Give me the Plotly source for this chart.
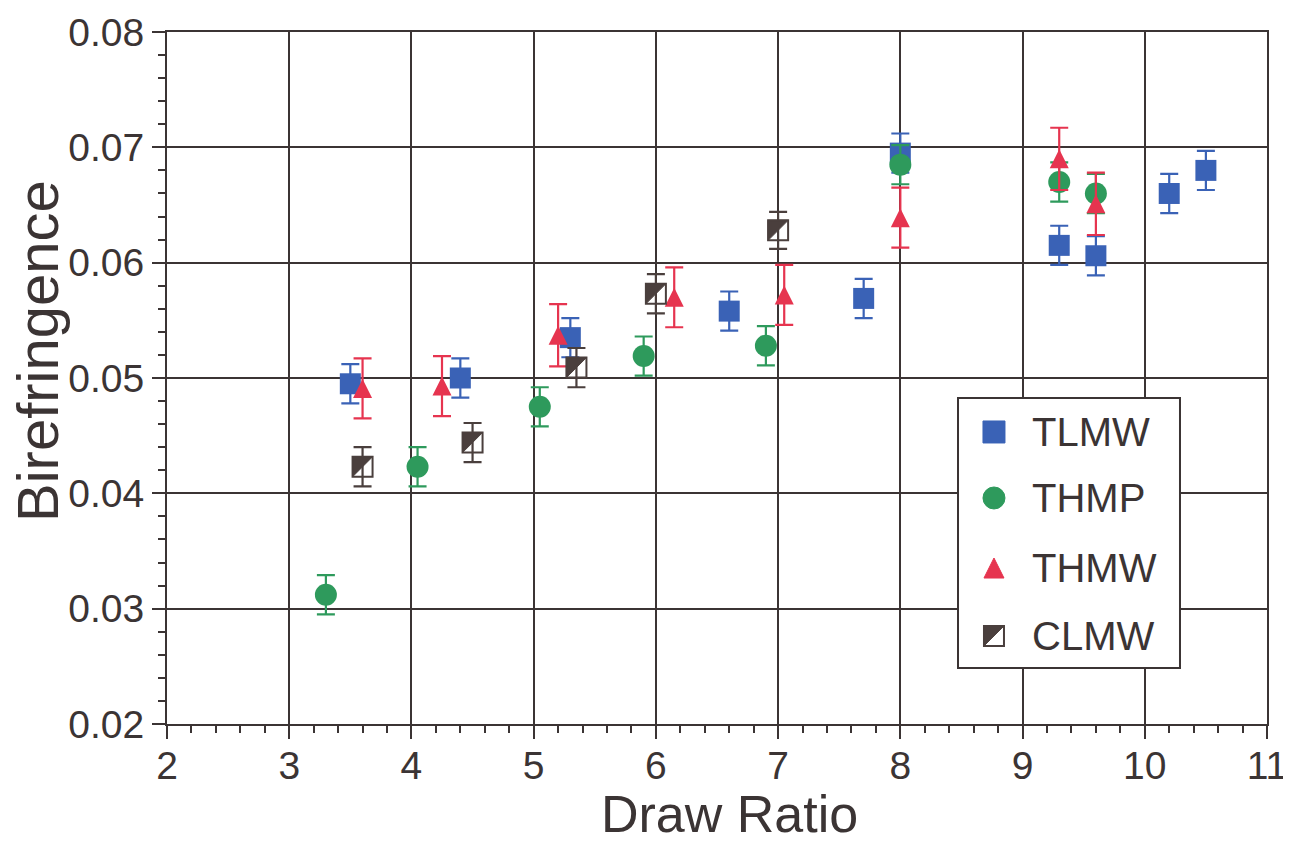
import plotly.graph_objects as go

# ---------------- data ----------------
tlmw_x = [3.5, 4.4, 5.3, 6.6, 7.7, 8.0, 9.3, 9.6, 10.2, 10.5]
tlmw_y = [0.0495, 0.0500, 0.0535, 0.0558, 0.0569, 0.0695, 0.0615, 0.0606, 0.0660, 0.0680]
tlmw_err = [0.0017] * 10

thmp_x = [3.3, 4.05, 5.05, 5.9, 6.9, 8.0, 9.3, 9.6]
thmp_y = [0.0312, 0.0423, 0.0475, 0.0519, 0.0528, 0.0685, 0.0670, 0.0660]
thmp_err = [0.0017] * 8

thmw_x = [3.6, 4.25, 5.2, 6.15, 7.05, 8.0, 9.3, 9.6]
thmw_y = [0.0491, 0.0493, 0.0537, 0.0570, 0.0572, 0.0639, 0.0690, 0.0651]
thmw_err = [0.0026, 0.0026, 0.0027, 0.0026, 0.0026, 0.0026, 0.0027, 0.0027]

clmw_x = [3.6, 4.5, 5.35, 6.0, 7.0]
clmw_y = [0.0423, 0.0444, 0.0509, 0.0573, 0.0628]
clmw_err = [0.0017, 0.0017, 0.0017, 0.0017, 0.0016]

series_names = ["TLMW", "THMP", "THMW", "CLMW"]
x_ticks = [2, 3, 4, 5, 6, 7, 8, 9, 10, 11]
y_ticks = [0.02, 0.03, 0.04, 0.05, 0.06, 0.07, 0.08]

# ---------------- style ----------------
DARK = "#3b3434"
BLUE = "#3a62b6"
GREEN = "#2e9a5c"
RED = "#e6344f"
CL = "#4a3f3d"
FONT = "Liberation Sans, Arial, Helvetica, sans-serif"


def err(arr, color):
    return dict(type="data", array=arr, visible=True, color=color,
                thickness=2.2, width=9)


fig = go.Figure()
fig.add_trace(go.Scatter(
    x=tlmw_x, y=tlmw_y, mode="markers", name="TLMW", showlegend=False,
    marker=dict(symbol="square", size=21, color=BLUE),
    error_y=err(tlmw_err, BLUE)))
fig.add_trace(go.Scatter(
    x=thmp_x, y=thmp_y, mode="markers", name="THMP", showlegend=False,
    marker=dict(symbol="circle", size=22, color=GREEN),
    error_y=err(thmp_err, GREEN)))
fig.add_trace(go.Scatter(
    x=thmw_x, y=thmw_y, mode="markers", name="THMW", showlegend=False,
    marker=dict(symbol="arrow-down", angle=180, standoff=9.5, size=19, color=RED),
    error_y=err(thmw_err, RED)))
fig.add_trace(go.Scatter(
    x=clmw_x, y=clmw_y, mode="markers", name="CLMW", showlegend=False,
    marker=dict(symbol="square", size=20, color="rgba(0,0,0,0)"),
    error_y=err(clmw_err, CL)))

shapes = []
# CLMW half-filled square markers, anchored at data points (pixel-sized)
for x, y in zip(clmw_x, clmw_y):
    shapes.append(dict(type="path", xref="x", yref="y", xsizemode="pixel",
                       ysizemode="pixel", xanchor=x, yanchor=y,
                       path="M-10,10 H10 L-10,-10 Z", fillcolor=CL,
                       line=dict(color=CL, width=1)))
    shapes.append(dict(type="path", xref="x", yref="y", xsizemode="pixel",
                       ysizemode="pixel", xanchor=x, yanchor=y,
                       path="M-10,10 H10 V-10 H-10 Z",
                       fillcolor="rgba(0,0,0,0)", line=dict(color=CL, width=2)))

# ---------------- manual legend ----------------
shapes.append(dict(type="rect", xref="paper", yref="paper",
                   x0=0.7191, x1=0.9209, y0=0.0809, y1=0.4711,
                   fillcolor="white", line=dict(color=DARK, width=2)))
leg_x = 0.7518
leg_text_x = 0.7845
leg_rows = [0.4220, 0.3266, 0.2254, 0.1272]
annotations = []
for name, yy in zip(series_names, leg_rows):
    base = dict(xref="paper", yref="paper", xsizemode="pixel", ysizemode="pixel",
                xanchor=leg_x, yanchor=yy)
    if name == "TLMW":
        shapes.append(dict(type="path", path="M-11,11 H11 V-11 H-11 Z",
                           fillcolor=BLUE, line=dict(color=BLUE, width=1), **base))
    elif name == "THMP":
        shapes.append(dict(type="circle", x0=-11, x1=11, y0=-11, y1=11,
                           fillcolor=GREEN, line=dict(color=GREEN, width=1), **base))
    elif name == "THMW":
        shapes.append(dict(type="path", path="M-10,-10 L10,-10 L0,10 Z",
                           fillcolor=RED, line=dict(color=RED, width=1), **base))
    else:
        shapes.append(dict(type="path", path="M-10,10 H10 L-10,-10 Z",
                           fillcolor=CL, line=dict(color=CL, width=1), **base))
        shapes.append(dict(type="path", path="M-10,10 H10 V-10 H-10 Z",
                           fillcolor="rgba(0,0,0,0)", line=dict(color=CL, width=2), **base))
    annotations.append(dict(xref="paper", yref="paper", x=leg_text_x, y=yy,
                            xanchor="left", yanchor="middle", text=name,
                            showarrow=False, font=dict(family=FONT, size=40, color=DARK)))

# axis titles
annotations.append(dict(xref="paper", yref="paper", x=0.5118, y=-0.1300,
                        xanchor="center", yanchor="middle", text="Draw Ratio",
                        showarrow=False, font=dict(family=FONT, size=52, color=DARK)))
annotations.append(dict(xref="paper", yref="paper", x=-0.1182, y=0.539,
                        xanchor="center", yanchor="middle", text="Birefringence",
                        textangle=-90, showarrow=False,
                        font=dict(family=FONT, size=58, color=DARK)))

axis_common = dict(
    showgrid=True, gridcolor=DARK, gridwidth=2,
    showline=True, linecolor=DARK, linewidth=2, mirror=True,
    ticks="outside", ticklen=13, tickwidth=2, tickcolor=DARK,
    zeroline=False, automargin=False,
    tickfont=dict(family=FONT, size=39, color=DARK),
)

# page body has an 8px default margin: size the figure so the plot area
# lands at x 167..1267, y 32..724 of the 1291x843 window
fig.update_layout(
    width=1283, height=835, autosize=False,
    margin=dict(l=159, r=24, t=24, b=119, pad=0),
    paper_bgcolor="white", plot_bgcolor="white",
    shapes=shapes, annotations=annotations,
    xaxis=dict(range=[2, 11], tickmode="array", tickvals=x_ticks,
               ticktext=[str(v) for v in x_ticks], ticklabelstandoff=-7,
               minor=dict(ticks="outside", ticklen=7, tickwidth=2,
                          tickcolor=DARK, dtick=0.2, tick0=2, showgrid=False),
               **axis_common),
    yaxis=dict(range=[0.02, 0.08], tickmode="array", tickvals=y_ticks,
               ticktext=["%.2f" % v for v in y_ticks],
               minor=dict(ticks="outside", ticklen=7, tickwidth=2,
                          tickcolor=DARK, dtick=0.002, tick0=0.02, showgrid=False),
               **axis_common),
    font=dict(family=FONT, color=DARK),
)

fig.write_html("out.html")
